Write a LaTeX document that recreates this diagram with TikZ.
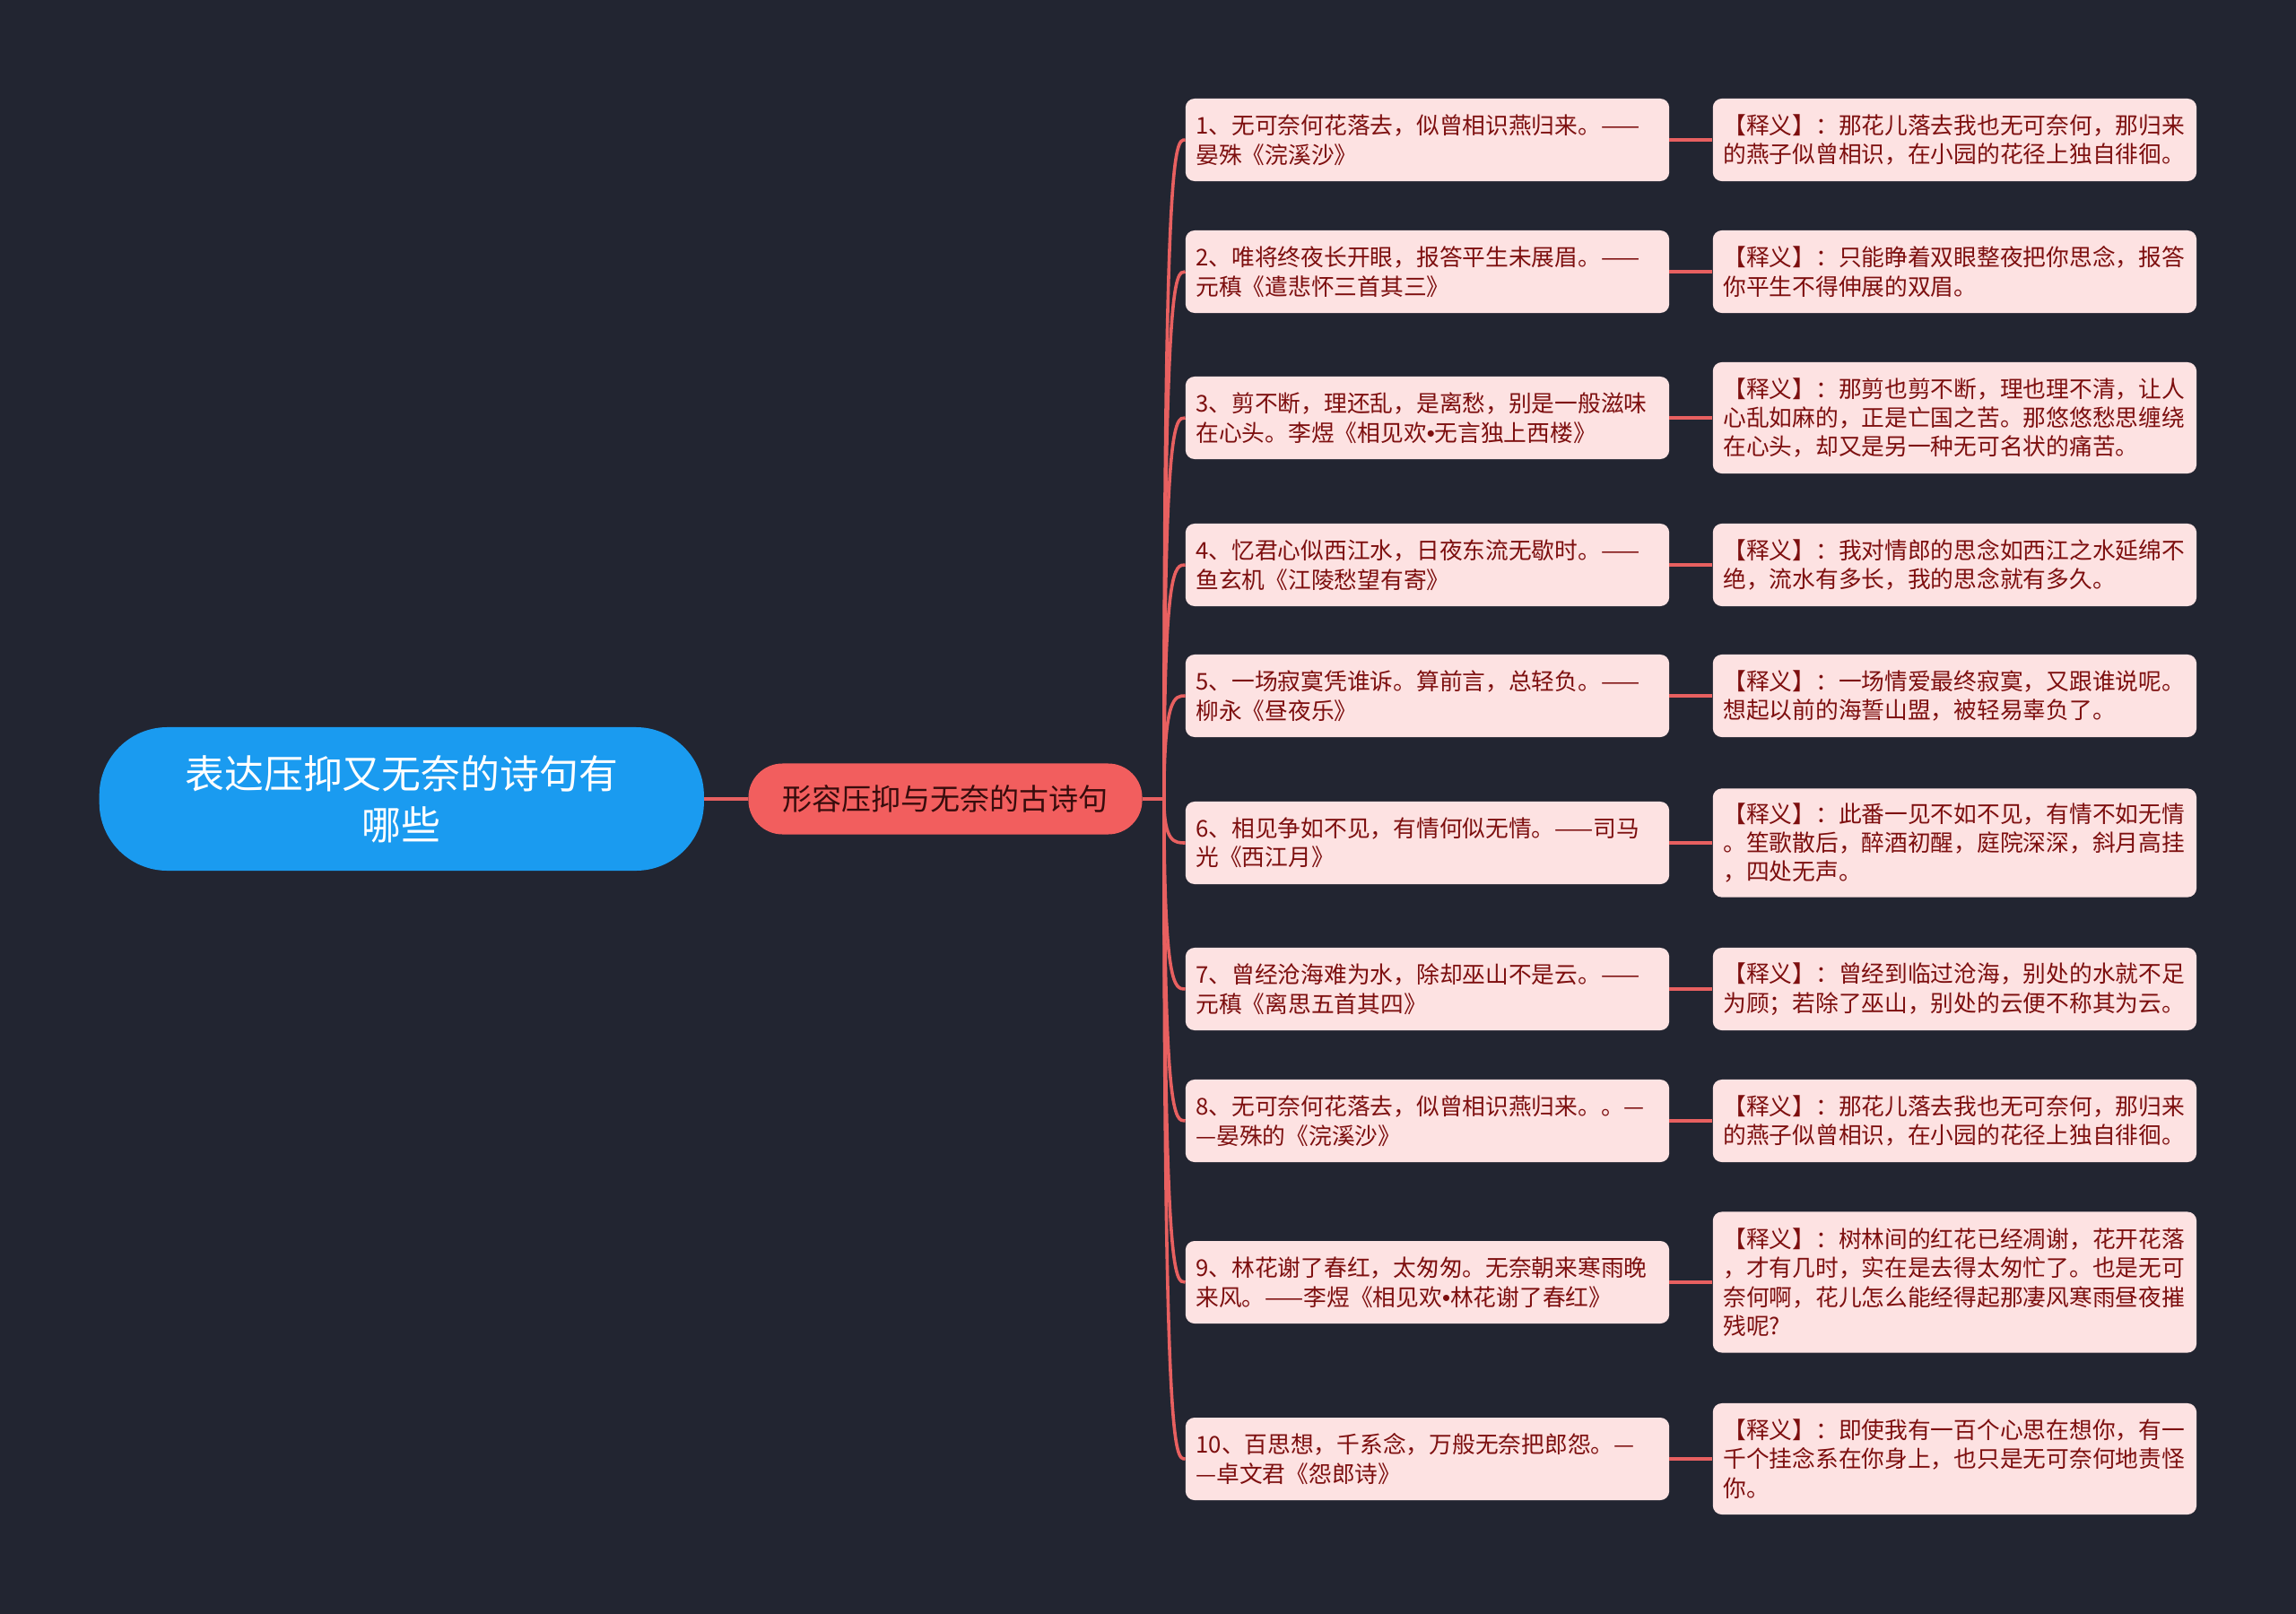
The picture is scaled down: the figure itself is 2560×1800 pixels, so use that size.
\documentclass[tikz,border=0pt]{standalone}
\usepackage{fontspec}
\setmainfont{Noto Sans CJK SC}
\newfontfamily\dotfont{Liberation Sans}
\usetikzlibrary{positioning,calc}

\begin{document}
\begin{tikzpicture}[
    x=0.025cm, y=-0.025cm,
    rootbox/.style={
        fill=rootblue,
        text=white,
        rounded corners=1.9cm,
        minimum width=16.85cm,
        minimum height=4cm,
        align=center,
        font=\fontsize{31.2pt}{40.5pt}\selectfont
    },
    topicbox/.style={
        fill=topicred,
        text=topicdark,
        rounded corners=0.95cm,
        minimum width=10.975cm,
        minimum height=1.975cm,
        font=\fontsize{23.5pt}{28pt}\selectfont
    },
    poembox/.style={
        fill=leafpink,
        text=leafred,
        rounded corners=0.25cm,
        text width=12.9cm,
        inner xsep=0.29cm,
        inner ysep=0pt,
        minimum height=2.3cm,
        align=left,
        font=\fontsize{18.3pt}{23.1pt}\selectfont
    },
    glossbox/.style={
        poembox
    },
    branch/.style={
        draw=linkred,
        line width=0.09cm
    }
]

\definecolor{mapbg}{RGB}{34,37,49}
\definecolor{rootblue}{RGB}{26,155,240}
\definecolor{topicred}{RGB}{242,94,94}
\definecolor{topicdark}{RGB}{55,12,12}
\definecolor{leafpink}{RGB}{253,226,226}
\definecolor{leafred}{RGB}{125,15,15}
\definecolor{linkred}{RGB}{232,96,96}

\fill[mapbg] (0,0) rectangle (2560,1800);

\node[topicbox] (topic) at (1054,891) {形容压抑与无奈的古诗句};
\node[rootbox, left=1.225cm of topic] (root) {表达压抑又无奈的诗句有\\哪些};
\coordinate[right=0.6cm of topic] (hub);

% poems
\node[poembox] (p1) at (1591.5,156) {1、无可奈何花落去，似曾相识燕归来。——\\晏殊《浣溪沙》};
\node[poembox] (p2) at (1591.5,303) {2、唯将终夜长开眼，报答平生未展眉。——\\元稹《遣悲怀三首其三》};
\node[poembox] (p3) at (1591.5,466) {3、剪不断，理还乱，是离愁，别是一般滋味\\在心头。李煜《相见欢{\dotfont •}无言独上西楼》};
\node[poembox] (p4) at (1591.5,630) {4、忆君心似西江水，日夜东流无歇时。——\\鱼玄机《江陵愁望有寄》};
\node[poembox] (p5) at (1591.5,776) {5、一场寂寞凭谁诉。算前言，总轻负。——\\柳永《昼夜乐》};
\node[poembox] (p6) at (1591.5,940) {6、相见争如不见，有情何似无情。——司马\\光《西江月》};
\node[poembox] (p7) at (1591.5,1103) {7、曾经沧海难为水，除却巫山不是云。——\\元稹《离思五首其四》};
\node[poembox] (p8) at (1591.5,1250) {8、无可奈何花落去，似曾相识燕归来。。—\\—晏殊的《浣溪沙》};
\node[poembox] (p9) at (1591.5,1430) {9、林花谢了春红，太匆匆。无奈朝来寒雨晚\\来风。——李煜《相见欢{\dotfont •}林花谢了春红》};
\node[poembox] (p10) at (1591.5,1627) {10、百思想，千系念，万般无奈把郎怨。—\\—卓文君《怨郎诗》};

% meanings
\node[glossbox, right=1.2cm of p1] (e1) {【释义】：那花儿落去我也无可奈何，那归来\\的燕子似曾相识，在小园的花径上独自徘徊。};
\node[glossbox, right=1.2cm of p2] (e2) {【释义】：只能睁着双眼整夜把你思念，报答\\你平生不得伸展的双眉。};
\node[glossbox, right=1.2cm of p3, minimum height=3.1cm] (e3) {【释义】：那剪也剪不断，理也理不清，让人\\心乱如麻的，正是亡国之苦。那悠悠愁思缠绕\\在心头，却又是另一种无可名状的痛苦。};
\node[glossbox, right=1.2cm of p4] (e4) {【释义】：我对情郎的思念如西江之水延绵不\\绝，流水有多长，我的思念就有多久。};
\node[glossbox, right=1.2cm of p5] (e5) {【释义】：一场情爱最终寂寞，又跟谁说呢。\\想起以前的海誓山盟，被轻易辜负了。};
\node[glossbox, right=1.2cm of p6, minimum height=3.03cm] (e6) {【释义】：此番一见不如不见，有情不如无情\\。笙歌散后，醉酒初醒，庭院深深，斜月高挂\\，四处无声。};
\node[glossbox, right=1.2cm of p7] (e7) {【释义】：曾经到临过沧海，别处的水就不足\\为顾；若除了巫山，别处的云便不称其为云。};
\node[glossbox, right=1.2cm of p8] (e8) {【释义】：那花儿落去我也无可奈何，那归来\\的燕子似曾相识，在小园的花径上独自徘徊。};
\node[glossbox, right=1.2cm of p9, minimum height=3.925cm] (e9) {【释义】：树林间的红花已经凋谢，花开花落\\，才有几时，实在是去得太匆忙了。也是无可\\奈何啊，花儿怎么能经得起那凄风寒雨昼夜摧\\残呢?};
\node[glossbox, right=1.2cm of p10, minimum height=3.1cm] (e10) {【释义】：即使我有一百个心思在想你，有一\\千个挂念系在你身上，也只是无可奈何地责怪\\你。};

\draw[branch] (root) -- (topic);
\draw[branch] (topic) -- (hub);

\draw[branch] (hub) .. controls (hub |- p1.west) and ($(hub |- p1.west)+(12,0)$) .. (p1.west);
\draw[branch] (hub) .. controls (hub |- p2.west) and ($(hub |- p2.west)+(12,0)$) .. (p2.west);
\draw[branch] (hub) .. controls (hub |- p3.west) and ($(hub |- p3.west)+(12,0)$) .. (p3.west);
\draw[branch] (hub) .. controls (hub |- p4.west) and ($(hub |- p4.west)+(12,0)$) .. (p4.west);
\draw[branch] (hub) .. controls (hub |- p5.west) and ($(hub |- p5.west)+(12,0)$) .. (p5.west);
\draw[branch] (hub) .. controls (hub |- p6.west) and ($(hub |- p6.west)+(12,0)$) .. (p6.west);
\draw[branch] (hub) .. controls (hub |- p7.west) and ($(hub |- p7.west)+(12,0)$) .. (p7.west);
\draw[branch] (hub) .. controls (hub |- p8.west) and ($(hub |- p8.west)+(12,0)$) .. (p8.west);
\draw[branch] (hub) .. controls (hub |- p9.west) and ($(hub |- p9.west)+(12,0)$) .. (p9.west);
\draw[branch] (hub) .. controls (hub |- p10.west) and ($(hub |- p10.west)+(12,0)$) .. (p10.west);

\draw[branch] (p1) -- (e1);
\draw[branch] (p2) -- (e2);
\draw[branch] (p3) -- (e3);
\draw[branch] (p4) -- (e4);
\draw[branch] (p5) -- (e5);
\draw[branch] (p6) -- (e6);
\draw[branch] (p7) -- (e7);
\draw[branch] (p8) -- (e8);
\draw[branch] (p9) -- (e9);
\draw[branch] (p10) -- (e10);

\end{tikzpicture}
\end{document}
